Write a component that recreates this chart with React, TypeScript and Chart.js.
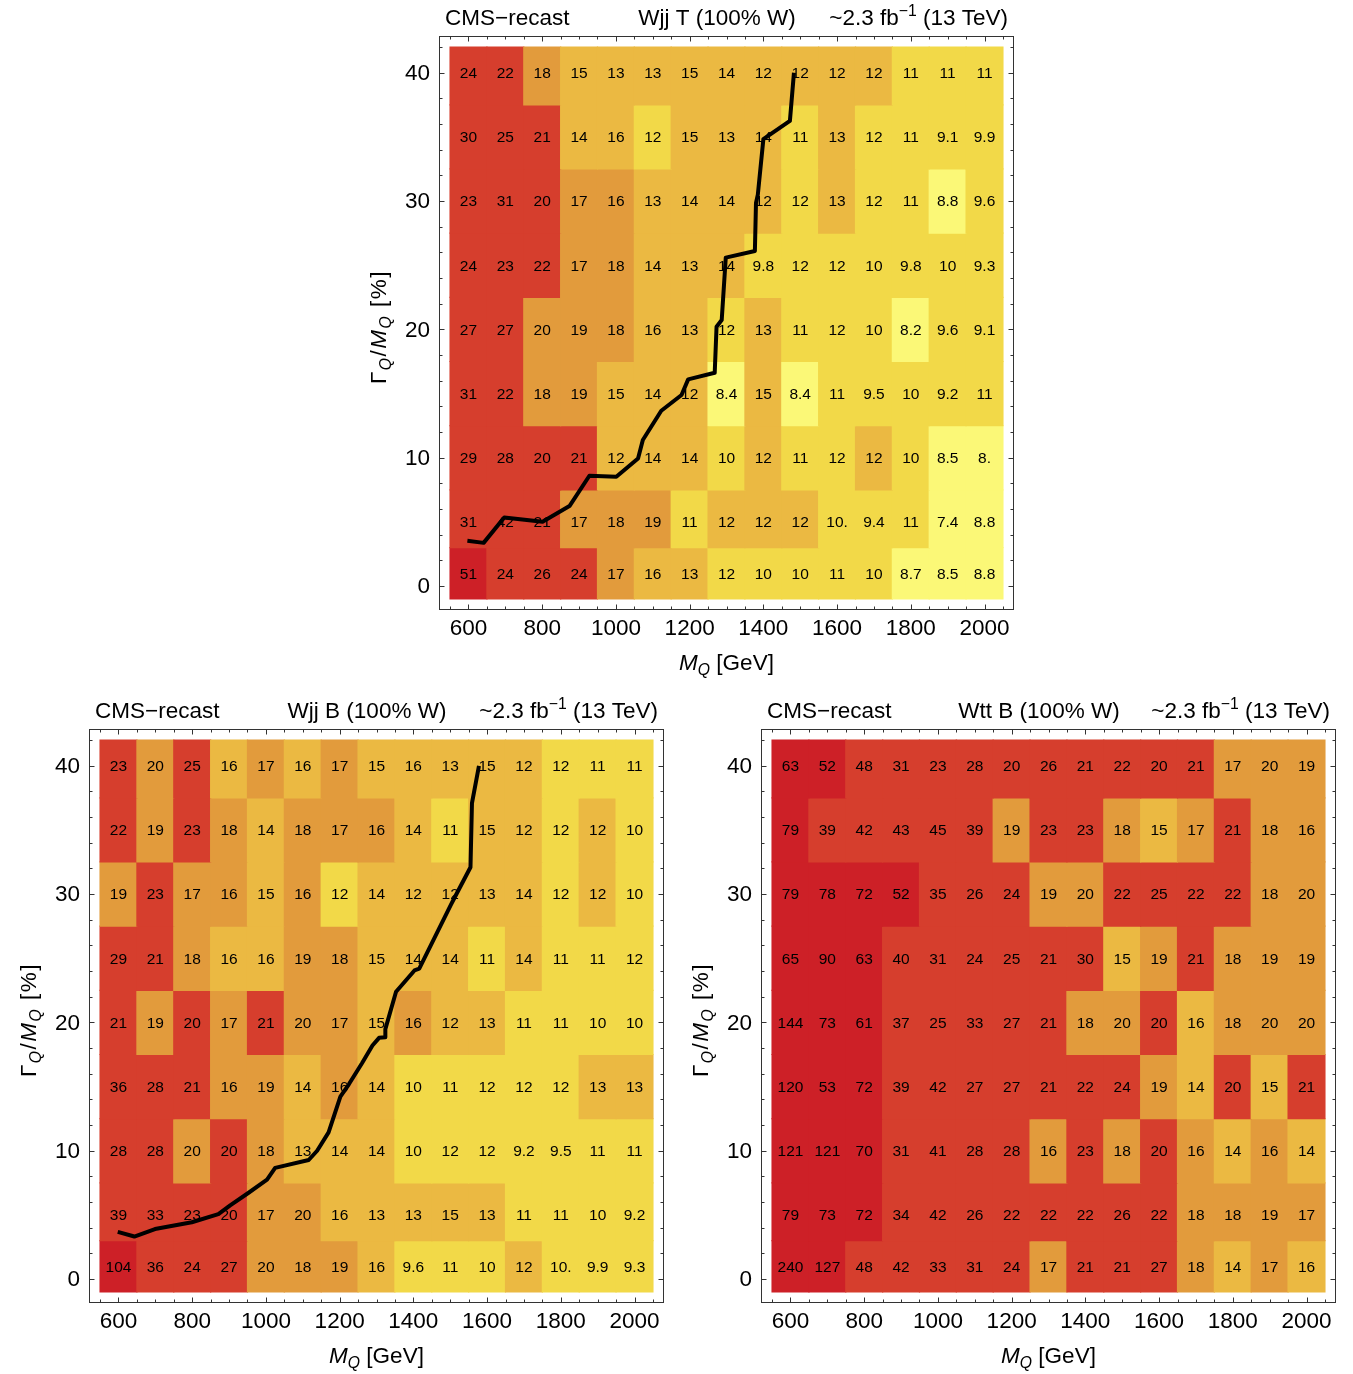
import React, { useEffect, useRef } from "react";
import { Chart, registerables } from "chart.js";

Chart.register(...registerables);

const FAMILY = "'Liberation Sans', Arial, Helvetica, sans-serif";
Chart.defaults.font.family = FAMILY;

// ---------- data ----------
const MASSES = [600, 700, 800, 900, 1000, 1100, 1200, 1300, 1400, 1500, 1600, 1700, 1800, 1900, 2000];
const WIDTHS = [40, 35, 30, 25, 20, 15, 10, 5, 1];
const WIDTH_EDGES = [42, 37.5, 32.5, 27.5, 22.5, 17.5, 12.5, 7.5, 3, -1];
const X_TICKS = [600, 800, 1000, 1200, 1400, 1600, 1800, 2000];
const Y_TICKS = [0, 10, 20, 30, 40];

// colour classes: D dark red, R red, O orange, L light orange, Y yellow, P pale yellow
const COLORS: Record<string, string> = {
  D: "#cd2027",
  R: "#d63e2d",
  O: "#e29b3c",
  L: "#ebb942",
  Y: "#f2d948",
  P: "#fbf877",
};

// Wjj T
const WJJT_LABELS = [
  ["24", "22", "18", "15", "13", "13", "15", "14", "12", "12", "12", "12", "11", "11", "11"],
  ["30", "25", "21", "14", "16", "12", "15", "13", "14", "11", "13", "12", "11", "9.1", "9.9"],
  ["23", "31", "20", "17", "16", "13", "14", "14", "12", "12", "13", "12", "11", "8.8", "9.6"],
  ["24", "23", "22", "17", "18", "14", "13", "14", "9.8", "12", "12", "10", "9.8", "10", "9.3"],
  ["27", "27", "20", "19", "18", "16", "13", "12", "13", "11", "12", "10", "8.2", "9.6", "9.1"],
  ["31", "22", "18", "19", "15", "14", "12", "8.4", "15", "8.4", "11", "9.5", "10", "9.2", "11"],
  ["29", "28", "20", "21", "12", "14", "14", "10", "12", "11", "12", "12", "10", "8.5", "8."],
  ["31", "42", "21", "17", "18", "19", "11", "12", "12", "12", "10.", "9.4", "11", "7.4", "8.8"],
  ["51", "24", "26", "24", "17", "16", "13", "12", "10", "10", "11", "10", "8.7", "8.5", "8.8"],
];
const WJJT_LEVELS = [
  "RROLLLLLLLLLYYY",
  "RRRLLYLLLYLYYYY",
  "RRROOLLLLYLYYPY",
  "RRROOLLLYYYYYYY",
  "RROOOLLYLYYYPYY",
  "RROOLLLPLPYYYYY",
  "RRRRLLLYLYYLYPP",
  "RRROOOYLLLYYYPP",
  "DRRROLLYYYYYPPP",
];
const WJJT_LINE_MASS = [597, 641, 697, 801, 874, 928, 1001, 1060, 1073, 1123, 1178, 1196, 1268, 1273, 1287, 1298, 1377, 1380, 1385, 1400, 1472, 1483];
const WJJT_LINE_WIDTH = [3.53, 3.37, 5.35, 5.01, 6.24, 8.6, 8.52, 9.95, 11.38, 13.66, 14.89, 16.11, 16.62, 20.21, 20.73, 25.59, 26.11, 29.86, 30.5, 34.82, 36.24, 40.0];

// Wjj B
const WJJB_LABELS = [
  ["23", "20", "25", "16", "17", "16", "17", "15", "16", "13", "15", "12", "12", "11", "11"],
  ["22", "19", "23", "18", "14", "18", "17", "16", "14", "11", "15", "12", "12", "12", "10"],
  ["19", "23", "17", "16", "15", "16", "12", "14", "12", "12", "13", "14", "12", "12", "10"],
  ["29", "21", "18", "16", "16", "19", "18", "15", "14", "14", "11", "14", "11", "11", "12"],
  ["21", "19", "20", "17", "21", "20", "17", "15", "16", "12", "13", "11", "11", "10", "10"],
  ["36", "28", "21", "16", "19", "14", "16", "14", "10", "11", "12", "12", "12", "13", "13"],
  ["28", "28", "20", "20", "18", "13", "14", "14", "10", "12", "12", "9.2", "9.5", "11", "11"],
  ["39", "33", "23", "20", "17", "20", "16", "13", "13", "15", "13", "11", "11", "10", "9.2"],
  ["104", "36", "24", "27", "20", "18", "19", "16", "9.6", "11", "10", "12", "10.", "9.9", "9.3"],
];
const WJJB_LEVELS = [
  "RORLOLOLLLLLYYY",
  "ROROLOOOLYLLYLY",
  "OROOLOYLLLLLYLY",
  "RROLLOOLLLYLYYY",
  "ROROROOLOLLYYYY",
  "RRROOLOLYYYYYLL",
  "RRORONLLYYYYYYY".replace("N", "L"),
  "RRRROOLLLLLYYYY",
  "DRRROOOLYYYLYYY",
];
const WJJB_LINE_MASS = [598, 643, 699, 799, 871, 903, 953, 1003, 1025, 1116, 1139, 1170, 1202, 1225, 1261, 1289, 1307, 1324, 1324, 1353, 1403, 1416, 1502, 1512, 1555, 1559, 1578];
const WJJB_LINE_WIDTH = [3.68, 3.32, 3.9, 4.43, 5.07, 5.75, 6.73, 7.75, 8.67, 9.28, 10.0, 11.43, 14.21, 15.18, 16.84, 18.2, 18.8, 18.85, 19.48, 22.39, 24.05, 24.19, 29.17, 29.73, 32.09, 37.08, 39.98];

// Wtt B
const WTTB_LABELS = [
  ["63", "52", "48", "31", "23", "28", "20", "26", "21", "22", "20", "21", "17", "20", "19"],
  ["79", "39", "42", "43", "45", "39", "19", "23", "23", "18", "15", "17", "21", "18", "16"],
  ["79", "78", "72", "52", "35", "26", "24", "19", "20", "22", "25", "22", "22", "18", "20"],
  ["65", "90", "63", "40", "31", "24", "25", "21", "30", "15", "19", "21", "18", "19", "19"],
  ["144", "73", "61", "37", "25", "33", "27", "21", "18", "20", "20", "16", "18", "20", "20"],
  ["120", "53", "72", "39", "42", "27", "27", "21", "22", "24", "19", "14", "20", "15", "21"],
  ["121", "121", "70", "31", "41", "28", "28", "16", "23", "18", "20", "16", "14", "16", "14"],
  ["79", "73", "72", "34", "42", "26", "22", "22", "22", "26", "22", "18", "18", "19", "17"],
  ["240", "127", "48", "42", "33", "31", "24", "17", "21", "21", "27", "18", "14", "17", "16"],
];
const WTTB_LEVELS = [
  "DDRRRRRRRRRROOO",
  "DRRRRRORROLOROO",
  "DDDDRRROORRRROO",
  "DDDRRRRRRLOROOO",
  "DDDRRRRROORLOOO",
  "DDDRRRRRRROLRLR",
  "DDDRRRROROROLOL",
  "DDDRRRRRRRROOOO",
  "DDRRRRRORRROLOL",
];

// ---------- layout ----------
const CW = 671;
const CH = 680;
const AREA_LEFT = 80;
const AREA_TOP = 36;
const AREA_RIGHT_PAD = 16;
const XAXIS_H = 70;
const TICK_FONT = 22.5;

type Part = { t: string; it?: boolean; sub?: boolean; sup?: boolean };

function partFont(p: Part, size: number) {
  const s = p.sub || p.sup ? size * 0.7 : size;
  return `${p.it ? "italic " : ""}${s}px ${FAMILY}`;
}
function richWidth(ctx: CanvasRenderingContext2D, parts: Part[], size: number) {
  let w = 0;
  for (const p of parts) {
    ctx.font = partFont(p, size);
    w += ctx.measureText(p.t).width;
  }
  return w;
}
function drawRich(ctx: CanvasRenderingContext2D, parts: Part[], x: number, y: number, size: number) {
  let cx = x;
  ctx.textAlign = "left";
  ctx.textBaseline = "alphabetic";
  for (const p of parts) {
    ctx.font = partFont(p, size);
    const dy = p.sub ? size * 0.24 : p.sup ? -size * 0.42 : 0;
    ctx.fillText(p.t, cx, y + dy);
    cx += ctx.measureText(p.t).width;
  }
}

type Panel = {
  name: string;
  labels: string[][];
  levels: string[];
  lineX?: number[];
  lineY?: number[];
};

function drawLabels(chart: any, p: Panel) {
  const ctx: CanvasRenderingContext2D = chart.ctx;
  const xs = chart.scales.x;
  const ys = chart.scales.y;
  ctx.save();
  ctx.font = `15.5px ${FAMILY}`;
  ctx.fillStyle = "#000";
  ctx.textAlign = "center";
  ctx.textBaseline = "middle";
  WIDTHS.forEach((w, r) => {
    MASSES.forEach((m, c) => {
      ctx.fillText(p.labels[r][c], xs.getPixelForValue(m), ys.getPixelForValue(w) + 1);
    });
  });
  ctx.restore();
}

function drawDecor(chart: any, p: Panel) {
  const ctx: CanvasRenderingContext2D = chart.ctx;
  const { left, right, top, bottom } = chart.chartArea;
  const xs = chart.scales.x;
  const ys = chart.scales.y;
  ctx.save();
  // frame
  ctx.strokeStyle = "#333";
  ctx.lineWidth = 1;
  const L = Math.round(left) + 0.5;
  const R = Math.round(right) - 0.5;
  const T = Math.round(top) + 0.5;
  const B = Math.round(bottom) - 0.5;
  ctx.strokeRect(L, T, R - L, B - T);
  // ticks
  ctx.beginPath();
  for (let v = 550; v <= 2050; v += 50) {
    const len = X_TICKS.includes(v) ? 5 : 3;
    const x = Math.round(xs.getPixelForValue(v)) + 0.5;
    ctx.moveTo(x, B);
    ctx.lineTo(x, B - len);
    ctx.moveTo(x, T);
    ctx.lineTo(x, T + len);
  }
  for (let v = 0; v <= 42; v += 2) {
    const len = Y_TICKS.includes(v) ? 5 : 3;
    const y = Math.round(ys.getPixelForValue(v)) + 0.5;
    ctx.moveTo(L, y);
    ctx.lineTo(L + len, y);
    ctx.moveTo(R, y);
    ctx.lineTo(R - len, y);
  }
  ctx.stroke();

  // title row
  ctx.fillStyle = "#000";
  const ty = top - 11;
  drawRich(ctx, [{ t: "CMS\u2212recast" }], left + 6, ty, TICK_FONT);
  const nameParts: Part[] = [{ t: p.name }];
  const nw = richWidth(ctx, nameParts, TICK_FONT);
  drawRich(ctx, nameParts, left + 278 - nw / 2, ty, TICK_FONT);
  const lumi: Part[] = [{ t: "~2.3 fb" }, { t: "\u22121", sup: true }, { t: " (13 TeV)" }];
  const lw = richWidth(ctx, lumi, TICK_FONT);
  drawRich(ctx, lumi, right - 6 - lw, ty, TICK_FONT);

  // x axis title
  const xt: Part[] = [{ t: "M", it: true }, { t: "Q", it: true, sub: true }, { t: " [GeV]" }];
  const xw = richWidth(ctx, xt, TICK_FONT);
  drawRich(ctx, xt, (left + right) / 2 - xw / 2, bottom + 60, TICK_FONT);

  // y axis title
  const yt: Part[] = [
    { t: "\u0393" },
    { t: "Q", it: true, sub: true },
    { t: "/" },
    { t: "M", it: true },
    { t: "Q", it: true, sub: true },
    { t: " [%]" },
  ];
  (ctx as any).letterSpacing = "1.5px";
  const yw = richWidth(ctx, yt, TICK_FONT);
  ctx.translate(left - 53, (top + bottom) / 2 + 4);
  ctx.rotate(-Math.PI / 2);
  drawRich(ctx, yt, -yw / 2, 0, TICK_FONT);
  (ctx as any).letterSpacing = "0px";
  ctx.restore();
}

function buildConfig(p: Panel): any {
  const datasets: any[] = WIDTHS.map((w, r) => ({
    type: "bar",
    label: `${w}`,
    data: MASSES.map((m) => ({ x: m, y: [WIDTH_EDGES[r + 1], WIDTH_EDGES[r]] })),
    backgroundColor: p.levels[r].split("").map((c) => COLORS[c]),
    borderWidth: 0,
    barPercentage: 1,
    categoryPercentage: 1,
    grouped: false,
    inflateAmount: 0.6,
    order: 2,
  }));
  if (p.lineX && p.lineY) {
    const ly = p.lineY;
    datasets.push({
      type: "line",
      label: "limit",
      data: p.lineX.map((x, i) => ({ x, y: ly[i] })),
      borderColor: "#000",
      borderWidth: 4,
      pointRadius: 0,
      tension: 0,
      fill: false,
      borderJoinStyle: "round",
      borderCapStyle: "butt",
      order: 0,
    });
  }
  const tickFont = { size: TICK_FONT, family: FAMILY };
  return {
    type: "bar",
    data: { datasets },
    options: {
      animation: false,
      responsive: false,
      events: [],
      layout: { padding: { left: 0, top: AREA_TOP, right: AREA_RIGHT_PAD, bottom: 0 } },
      plugins: { legend: { display: false }, tooltip: { enabled: false }, title: { display: false } },
      scales: {
        x: {
          type: "linear",
          min: 520,
          max: 2080,
          offset: false,
          grid: { display: false, drawTicks: false },
          border: { display: false },
          ticks: {
            padding: 5,
            font: tickFont,
            color: "#000",
            autoSkip: false,
            maxRotation: 0,
            callback: (v: any) => String(v),
          },
          afterBuildTicks: (s: any) => {
            s.ticks = X_TICKS.map((v) => ({ value: v }));
          },
          afterFit: (s: any) => {
            s.height = XAXIS_H;
          },
        },
        y: {
          type: "linear",
          min: -1.86,
          max: 42.86,
          grid: { display: false, drawTicks: false },
          border: { display: false },
          ticks: {
            padding: 9,
            labelOffset: 1,
            font: tickFont,
            color: "#000",
            autoSkip: false,
            callback: (v: any) => String(v),
          },
          afterBuildTicks: (s: any) => {
            s.ticks = Y_TICKS.map((v) => ({ value: v }));
          },
          afterFit: (s: any) => {
            s.width = AREA_LEFT;
          },
        },
      },
    },
    plugins: [
      {
        id: "decor",
        beforeDatasetDraw(chart: any, args: any) {
          if (args.meta.type === "line") drawLabels(chart, p);
        },
        afterDatasetsDraw(chart: any) {
          if (!p.lineX) drawLabels(chart, p);
        },
        afterDraw(chart: any) {
          drawDecor(chart, p);
        },
      },
    ],
  };
}

function HeatPanel({ panel, left, top }: { panel: Panel; left: number; top: number }) {
  const ref = useRef<HTMLCanvasElement>(null);
  useEffect(() => {
    if (!ref.current) return;
    const chart = new Chart(ref.current, buildConfig(panel));
    return () => chart.destroy();
  }, [panel]);
  return (
    <canvas
      ref={ref}
      width={CW}
      height={CH}
      style={{ position: "absolute", left, top, width: CW, height: CH }}
    />
  );
}

const PANELS: Panel[] = [
  { name: "Wjj T (100% W)", labels: WJJT_LABELS, levels: WJJT_LEVELS, lineX: WJJT_LINE_MASS, lineY: WJJT_LINE_WIDTH },
  { name: "Wjj B (100% W)", labels: WJJB_LABELS, levels: WJJB_LEVELS, lineX: WJJB_LINE_MASS, lineY: WJJB_LINE_WIDTH },
  { name: "Wtt B (100% W)", labels: WTTB_LABELS, levels: WTTB_LEVELS },
];

export default function App() {
  return (
    <div
      style={{
        position: "fixed",
        left: 0,
        top: 0,
        width: 1353,
        height: 1374,
        overflow: "hidden",
        background: "#fff",
      }}
    >
      <HeatPanel panel={PANELS[0]} left={359} top={0} />
      <HeatPanel panel={PANELS[1]} left={9} top={693} />
      <HeatPanel panel={PANELS[2]} left={681} top={693} />
    </div>
  );
}
